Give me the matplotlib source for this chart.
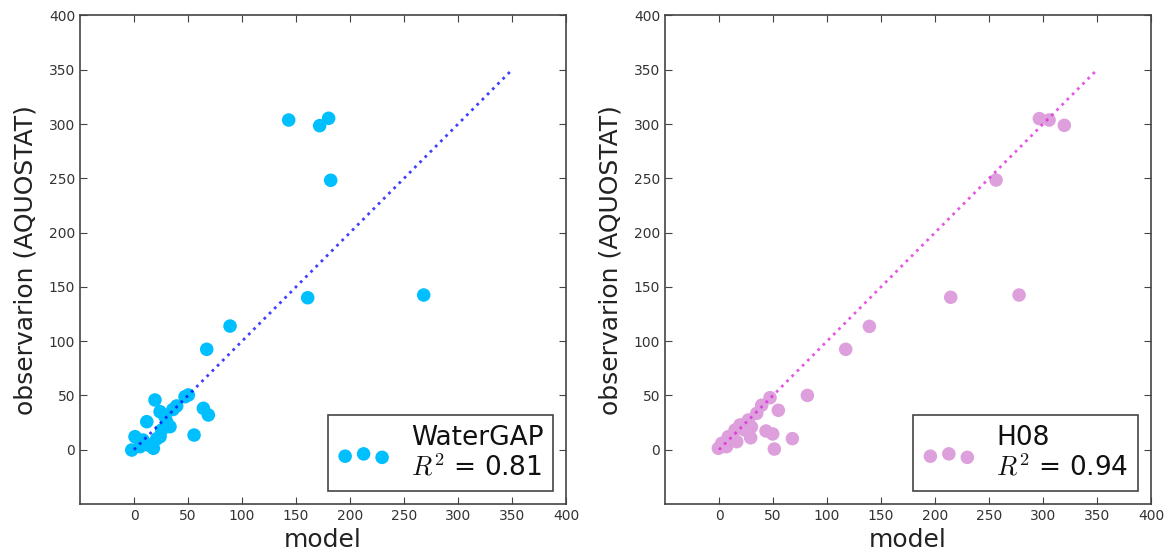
import matplotlib
matplotlib.use("Agg")
import matplotlib.pyplot as plt
import numpy as np

plt.rcParams["mathtext.fontset"] = "cm"

# WaterGAP: modelled vs observed (AQUASTAT) values
watergap_model = [143.2, 180.2, 171.9, 182.1, 160.8, 268.2, 88.9, 67.3,
                  64.2, 68.8, 55.6, 50.3, 47.2, 39.5, 19.4, 11.8, 24.1,
                  28.7, 33.3, 30.2, 25.6, 24.1, 0.9, 8.3, 5.6, 13.2,
                  17.9, -2.1, 36.0, 21.0]
watergap_obs = [303.7, 305.3, 298.5, 248.2, 140.0, 142.5, 113.9, 92.5,
                38.1, 32.0, 13.5, 50.4, 48.8, 40.3, 45.8, 25.8, 35.0,
                30.4, 21.2, 25.8, 18.1, 12.0, 12.0, 8.9, 2.8, 4.3,
                1.3, -0.3, 37.0, 10.0]

# H08: modelled vs observed (AQUASTAT) values
h08_model = [296.6, 305.6, 319.7, 256.5, 214.5, 277.8, 139.2, 117.3,
             81.8, 54.9, 43.5, 49.7, 67.9, 51.2, 29.3, 47.2, 39.5,
             34.9, 27.2, 19.4, 14.8, 8.6, 2.5, -0.6, 7.0, 16.4,
             24.0, 30.0, 4.0, 11.0]
h08_obs = [305.0, 303.7, 298.8, 248.4, 140.4, 142.5, 113.6, 92.5,
           50.0, 36.3, 17.2, 14.5, 10.2, 0.6, 11.0, 47.9, 41.0,
           33.5, 27.4, 22.8, 18.1, 12.0, 5.9, 1.3, 2.8, 7.4,
           18.0, 21.0, 3.0, 9.0]

panels = [
    ("WaterGAP", 0.81, watergap_model, watergap_obs, "#00BFFF", "blue"),
    ("H08", 0.94, h08_model, h08_obs, "#DDA0DD", "#DD22DD"),
]
one_to_one = [0, 350]
ticks = [0, 50, 100, 150, 200, 250, 300, 350, 400]

fig = plt.figure(figsize=(11.7, 5.57), dpi=100, facecolor="white")
lefts = [0.0684, 0.5684]
for left, (name, r2, xm, yo, mcolor, lcolor) in zip(lefts, panels):
    ax = fig.add_axes([left, 0.0952, 0.4154, 0.877])
    ax.plot(one_to_one, one_to_one, linestyle=":", color=lcolor,
            linewidth=2, alpha=0.75, zorder=3)
    ax.scatter(xm, yo, s=95, color=mcolor, edgecolors="none", zorder=2,
               label=f"{name}\n$R^2$ = {r2:.2f}")
    ax.set_xlim(-50, 400)
    ax.set_ylim(-50, 400)
    ax.set_xticks(ticks)
    ax.set_yticks(ticks)
    ax.tick_params(direction="in", top=True, right=True, length=5,
                   labelsize=10, colors="#444444", labelcolor="#333333")
    for sp in ax.spines.values():
        sp.set_color("#444444")
        sp.set_linewidth(1.2)
    ax.set_xlabel("model", fontsize=18, color="#222222", labelpad=4)
    ax.set_ylabel("observarion (AQUOSTAT)", fontsize=18, color="#222222",
                  labelpad=8)
    leg = ax.legend(loc="lower right", scatterpoints=3,
                    scatteryoffsets=[0.375, 0.5, 0.3125], fontsize=19,
                    fancybox=False, framealpha=1, borderaxespad=0.5,
                    handletextpad=0.8, borderpad=0.35, labelspacing=0.1)
    leg.get_frame().set_edgecolor("#444444")
    leg.get_frame().set_linewidth(1.2)
    for t in leg.get_texts():
        t.set_color("#111111")

fig.savefig("out.png", dpi=100, facecolor="white")
